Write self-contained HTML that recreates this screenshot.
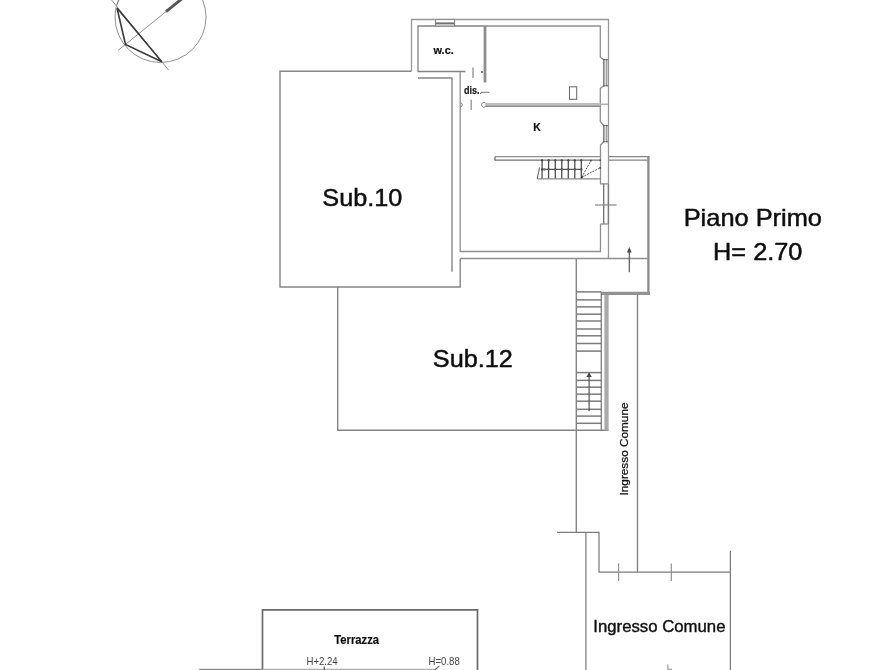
<!DOCTYPE html>
<html lang="it"><head><meta charset="utf-8"><title>Piano Primo</title>
<style>
html,body{margin:0;padding:0;background:#fff;}
body{width:893px;height:670px;overflow:hidden;}
svg{display:block;font-family:"Liberation Sans",sans-serif;}
</style></head><body>
<svg width="893" height="670" viewBox="0 0 893 670">
<defs><filter id="b" x="0" y="0" width="893" height="670" filterUnits="userSpaceOnUse"><feGaussianBlur stdDeviation="0.5"/></filter></defs>
<rect width="893" height="670" fill="#fff"/>
<g filter="url(#b)">
<circle cx="160.5" cy="17" r="45.5" fill="none" stroke="#909090" stroke-width="1"/>
<line x1="110.8" y1="-1" x2="168.5" y2="70" stroke="#909090" stroke-width="1" />
<line x1="118.1" y1="50.4" x2="181.8" y2="-1.2" stroke="#909090" stroke-width="1" />
<line x1="166" y1="11.6" x2="181.8" y2="-1.2" stroke="#555" stroke-width="2.8" />
<path d="M117 8 L125.5 44.4 L161.8 61.8 L117 8" stroke="#3a3a3a" stroke-width="1.6" fill="none" stroke-linejoin="miter" />
<path d="M119.6 -1 L116.6 5.4" stroke="#909090" stroke-width="1" fill="none" stroke-linejoin="miter" />
<path d="M411.5 71.3 L280 71.3 L280 287 L460.2 287 L460.2 258.5" stroke="#858585" stroke-width="1.4" fill="none" stroke-linejoin="miter" />
<path d="M411.5 71.3 L411.5 19.5 L608.5 19.5 L608.5 258.5" stroke="#979797" stroke-width="1.3" fill="none" stroke-linejoin="miter" />
<path d="M460.2 258.5 L648.5 258.5" stroke="#8f8f8f" stroke-width="1.3" fill="none" stroke-linejoin="miter" />
<path d="M418 78 L452 78 L452 271.7" stroke="#858585" stroke-width="1.4" fill="none" stroke-linejoin="miter" />
<path d="M485 26 L418 26 L418 71.5 L465.5 71.5" stroke="#848484" stroke-width="1.3" fill="none" stroke-linejoin="miter" />
<path d="M460.2 71.5 L460.2 251.5 L600.5 251.5 L600.5 224" stroke="#8f8f8f" stroke-width="1.3" fill="none" stroke-linejoin="miter" />
<path d="M485 26 L600.3 26 L600.3 57.2 L603.6 59.6 L603.6 85.8 L600.3 88.5 L600.3 121.5 L603.6 125.5 L603.6 141.7 L600.5 145 L600.5 183.8 L608.5 183.8" stroke="#8f8f8f" stroke-width="1.3" fill="none" stroke-linejoin="miter" />
<rect x="604" y="59.6" width="2.8" height="26.199999999999996" fill="#dcdcdc" stroke="#808080" stroke-width="1"/>
<circle cx="604" cy="59.6" r="0.8" fill="#555" stroke="none" stroke-width="1"/>
<circle cx="607" cy="59.6" r="0.8" fill="#555" stroke="none" stroke-width="1"/>
<circle cx="604" cy="85.8" r="0.8" fill="#555" stroke="none" stroke-width="1"/>
<circle cx="607" cy="85.8" r="0.8" fill="#555" stroke="none" stroke-width="1"/>
<rect x="604" y="125.5" width="2.8" height="16.19999999999999" fill="#dcdcdc" stroke="#808080" stroke-width="1"/>
<circle cx="604" cy="125.5" r="0.8" fill="#555" stroke="none" stroke-width="1"/>
<circle cx="607" cy="125.5" r="0.8" fill="#555" stroke="none" stroke-width="1"/>
<circle cx="604" cy="141.7" r="0.8" fill="#555" stroke="none" stroke-width="1"/>
<circle cx="607" cy="141.7" r="0.8" fill="#555" stroke="none" stroke-width="1"/>
<line x1="600.3" y1="104.2" x2="608.5" y2="104.2" stroke="#8f8f8f" stroke-width="1" />
<line x1="603.7" y1="183.8" x2="603.7" y2="224" stroke="#6e6e6e" stroke-width="1.3" />
<line x1="608.4" y1="183.8" x2="608.4" y2="224" stroke="#7a7a7a" stroke-width="1.3" />
<line x1="600.5" y1="224" x2="608.5" y2="224" stroke="#8f8f8f" stroke-width="1.3" />
<line x1="595" y1="205" x2="616.5" y2="205" stroke="#858585" stroke-width="1.2" />
<rect x="435.5" y="19.5" width="19" height="6.5" fill="#fff" stroke="#8f8f8f" stroke-width="1.2"/>
<line x1="435.5" y1="23.4" x2="454.5" y2="23.4" stroke="#707070" stroke-width="2" />
<line x1="485" y1="26" x2="485" y2="82.5" stroke="#8e8e8e" stroke-width="2.8" />
<line x1="482.5" y1="104.6" x2="600.3" y2="104.6" stroke="#bdbdbd" stroke-width="3.2" />
<line x1="482.5" y1="106.4" x2="600.3" y2="106.4" stroke="#8c8c8c" stroke-width="1.2" />
<path d="M485 107 A2.4 2.4 0 1 1 485.5 103" fill="#fff" stroke="#858585" stroke-width="1"/>
<rect x="569.5" y="86.8" width="7.2" height="12.5" fill="none" stroke="#707070" stroke-width="1.1"/>
<line x1="473" y1="67.5" x2="473" y2="78" stroke="#909090" stroke-width="1.3" />
<line x1="471.2" y1="99.7" x2="471.2" y2="110" stroke="#909090" stroke-width="1.3" />
<circle cx="482" cy="72" r="1" fill="#555" stroke="none" stroke-width="1"/>
<path d="M480.3 93.8 L481.5 92.2 L489.3 92.2" stroke="#777" stroke-width="1.1" fill="none" stroke-linejoin="miter" />
<path d="M460.2 102.8 A2 2 0 0 1 460.2 107" fill="none" stroke="#858585" stroke-width="1"/>
<line x1="495" y1="156.7" x2="600.5" y2="156.7" stroke="#8f8f8f" stroke-width="1.2" />
<path d="M495 156.7 L495 160.1 L600.5 160.1" stroke="#707070" stroke-width="1.3" fill="none" stroke-linejoin="miter" />
<line x1="608.5" y1="156.7" x2="649.5" y2="156.7" stroke="#858585" stroke-width="1.3" />
<line x1="608.5" y1="160.1" x2="648" y2="160.1" stroke="#858585" stroke-width="1.2" />
<line x1="648.4" y1="156.7" x2="648.4" y2="294" stroke="#8a8a8a" stroke-width="2.3" />
<line x1="601" y1="293.3" x2="650" y2="293.3" stroke="#929292" stroke-width="3.2" />
<line x1="542.1" y1="160.1" x2="542.1" y2="178.9" stroke="#505050" stroke-width="1.3" />
<circle cx="542.1" cy="160.3" r="1.1" fill="#3a3a3a" stroke="none" stroke-width="1"/>
<circle cx="542.1" cy="169.4" r="1.1" fill="#3a3a3a" stroke="none" stroke-width="1"/>
<line x1="548.6" y1="160.1" x2="548.6" y2="178.9" stroke="#505050" stroke-width="1.3" />
<circle cx="548.6" cy="160.3" r="1.1" fill="#3a3a3a" stroke="none" stroke-width="1"/>
<circle cx="548.6" cy="169.4" r="1.1" fill="#3a3a3a" stroke="none" stroke-width="1"/>
<line x1="555.3" y1="160.1" x2="555.3" y2="178.9" stroke="#505050" stroke-width="1.3" />
<circle cx="555.3" cy="160.3" r="1.1" fill="#3a3a3a" stroke="none" stroke-width="1"/>
<circle cx="555.3" cy="169.4" r="1.1" fill="#3a3a3a" stroke="none" stroke-width="1"/>
<line x1="561.8" y1="160.1" x2="561.8" y2="178.9" stroke="#505050" stroke-width="1.3" />
<circle cx="561.8" cy="160.3" r="1.1" fill="#3a3a3a" stroke="none" stroke-width="1"/>
<circle cx="561.8" cy="169.4" r="1.1" fill="#3a3a3a" stroke="none" stroke-width="1"/>
<line x1="568.3" y1="160.1" x2="568.3" y2="178.9" stroke="#505050" stroke-width="1.3" />
<circle cx="568.3" cy="160.3" r="1.1" fill="#3a3a3a" stroke="none" stroke-width="1"/>
<circle cx="568.3" cy="169.4" r="1.1" fill="#3a3a3a" stroke="none" stroke-width="1"/>
<line x1="574.8" y1="160.1" x2="574.8" y2="178.9" stroke="#505050" stroke-width="1.3" />
<circle cx="574.8" cy="160.3" r="1.1" fill="#3a3a3a" stroke="none" stroke-width="1"/>
<circle cx="574.8" cy="169.4" r="1.1" fill="#3a3a3a" stroke="none" stroke-width="1"/>
<line x1="581.3" y1="160.1" x2="581.3" y2="178.9" stroke="#505050" stroke-width="1.3" />
<circle cx="581.3" cy="160.3" r="1.1" fill="#3a3a3a" stroke="none" stroke-width="1"/>
<circle cx="581.3" cy="169.4" r="1.1" fill="#3a3a3a" stroke="none" stroke-width="1"/>
<line x1="543.4" y1="169.4" x2="581.3" y2="169.4" stroke="#555" stroke-width="1.3" />
<line x1="537.2" y1="178.9" x2="600.5" y2="178.9" stroke="#8a8a8a" stroke-width="1.1" />
<line x1="539.6" y1="167.5" x2="537.2" y2="178.9" stroke="#666" stroke-width="1.1" />
<circle cx="544.3" cy="169.4" r="1.4" fill="#777" stroke="none" stroke-width="1"/>
<line x1="581.8" y1="177.2" x2="591" y2="160.4" stroke="#555" stroke-width="1" stroke-dasharray="2 1"/>
<line x1="581.8" y1="177.2" x2="600.3" y2="167.8" stroke="#555" stroke-width="1" stroke-dasharray="2 1"/>
<circle cx="581.8" cy="177.2" r="1" fill="#333" stroke="none" stroke-width="1"/>
<circle cx="591" cy="160.6" r="0.9" fill="#444" stroke="none" stroke-width="1"/>
<circle cx="600.2" cy="167.8" r="0.9" fill="#444" stroke="none" stroke-width="1"/>
<circle cx="600.2" cy="160.3" r="0.9" fill="#555" stroke="none" stroke-width="1"/>
<line x1="629.3" y1="251" x2="629.3" y2="272.3" stroke="#555" stroke-width="1.2" />
<path d="M629.3 247 L627 252.5 L631.6 252.5 Z" fill="#444"/>
<path d="M337.7 287 L337.7 430.2 L608.5 430.2" stroke="#858585" stroke-width="1.4" fill="none" stroke-linejoin="miter" />
<line x1="576.3" y1="258.5" x2="576.3" y2="532.3" stroke="#858585" stroke-width="1.4" />
<line x1="601.3" y1="292" x2="601.3" y2="430.2" stroke="#858585" stroke-width="1.4" />
<line x1="606.5" y1="295" x2="606.5" y2="430.2" stroke="#ababab" stroke-width="4.3" />
<line x1="637.5" y1="295" x2="637.5" y2="572" stroke="#858585" stroke-width="1.4" />
<line x1="576.3" y1="291.9" x2="601.3" y2="291.9" stroke="#7c7c7c" stroke-width="1.5" />
<line x1="576.3" y1="299.9" x2="601.3" y2="299.9" stroke="#7c7c7c" stroke-width="1.5" />
<line x1="576.3" y1="306.9" x2="601.3" y2="306.9" stroke="#7c7c7c" stroke-width="1.5" />
<line x1="576.3" y1="314.2" x2="601.3" y2="314.2" stroke="#7c7c7c" stroke-width="1.5" />
<line x1="576.3" y1="321" x2="601.3" y2="321" stroke="#7c7c7c" stroke-width="1.5" />
<line x1="576.3" y1="329" x2="601.3" y2="329" stroke="#7c7c7c" stroke-width="1.5" />
<line x1="576.3" y1="335.8" x2="601.3" y2="335.8" stroke="#7c7c7c" stroke-width="1.5" />
<line x1="576.3" y1="343.5" x2="601.3" y2="343.5" stroke="#7c7c7c" stroke-width="1.5" />
<line x1="576.3" y1="351.1" x2="601.3" y2="351.1" stroke="#7c7c7c" stroke-width="1.5" />
<line x1="576.3" y1="372.6" x2="601.3" y2="372.6" stroke="#7c7c7c" stroke-width="1.5" />
<line x1="576.3" y1="380.4" x2="601.3" y2="380.4" stroke="#7c7c7c" stroke-width="1.5" />
<line x1="576.3" y1="387.2" x2="601.3" y2="387.2" stroke="#7c7c7c" stroke-width="1.5" />
<line x1="576.3" y1="394.2" x2="601.3" y2="394.2" stroke="#7c7c7c" stroke-width="1.5" />
<line x1="576.3" y1="401.2" x2="601.3" y2="401.2" stroke="#7c7c7c" stroke-width="1.5" />
<line x1="576.3" y1="409.3" x2="601.3" y2="409.3" stroke="#7c7c7c" stroke-width="1.5" />
<line x1="576.3" y1="416.1" x2="601.3" y2="416.1" stroke="#7c7c7c" stroke-width="1.5" />
<line x1="576.3" y1="423.3" x2="601.3" y2="423.3" stroke="#7c7c7c" stroke-width="1.5" />
<line x1="589.1" y1="375" x2="589.1" y2="411.2" stroke="#555" stroke-width="1.2" />
<path d="M589.1 372.3 L586.4 377 L591.8 377 Z" fill="#444"/>
<path d="M557 532.3 L599 532.3 L599 572 L730.4 572" stroke="#7c7c7c" stroke-width="1.25" fill="none" stroke-linejoin="miter" />
<line x1="585.9" y1="532.3" x2="585.9" y2="670" stroke="#7c7c7c" stroke-width="1.25" />
<line x1="730.4" y1="550.8" x2="730.4" y2="670" stroke="#7c7c7c" stroke-width="1.25" />
<line x1="618.6" y1="563.6" x2="618.6" y2="581" stroke="#909090" stroke-width="1.2" />
<line x1="671.3" y1="563.6" x2="671.3" y2="581" stroke="#909090" stroke-width="1.2" />
<path d="M667.8 664.5 L667.8 669.3 L672 669.3" stroke="#909090" stroke-width="1.1" fill="none" stroke-linejoin="miter" />
<path d="M262.5 670 L262.5 609.8 L477.5 609.8 L477.5 670" stroke="#6a6a6a" stroke-width="1.7" fill="none" stroke-linejoin="miter" />
<line x1="199" y1="669.4" x2="262.5" y2="669.4" stroke="#8a8a8a" stroke-width="1.4" />
<line x1="262.5" y1="669.4" x2="436" y2="669.4" stroke="#b0b0b0" stroke-width="1.4" />
<line x1="324.3" y1="666.5" x2="324.3" y2="670" stroke="#555" stroke-width="1.2" />
<line x1="434.9" y1="670" x2="439.4" y2="665.8" stroke="#666" stroke-width="1.1" />
<text x="322.3" y="206.3" font-size="24.6" font-weight="normal" text-anchor="start" fill="#111" stroke="#111" stroke-width="0.5" stroke-linejoin="round" textLength="80" lengthAdjust="spacingAndGlyphs" >Sub.10</text>
<text x="432.8" y="367.2" font-size="24.6" font-weight="normal" text-anchor="start" fill="#111" stroke="#111" stroke-width="0.5" stroke-linejoin="round" textLength="80" lengthAdjust="spacingAndGlyphs" >Sub.12</text>
<text x="683.7" y="225.5" font-size="24" font-weight="normal" text-anchor="start" fill="#111" stroke="#111" stroke-width="0.5" stroke-linejoin="round" textLength="138.3" lengthAdjust="spacingAndGlyphs" >Piano Primo</text>
<text x="713.1" y="259.5" font-size="24" font-weight="normal" text-anchor="start" fill="#111" stroke="#111" stroke-width="0.5" stroke-linejoin="round" textLength="89.3" lengthAdjust="spacingAndGlyphs" >H= 2.70</text>
<text x="593.3" y="631.6" font-size="16.5" font-weight="normal" text-anchor="start" fill="#111" stroke="#111" stroke-width="0.4" stroke-linejoin="round" textLength="132.2" lengthAdjust="spacingAndGlyphs" >Ingresso Comune</text>
<text x="0" y="0" font-size="10.5" font-weight="normal" text-anchor="start" fill="#111" stroke="#111" stroke-width="0.25" stroke-linejoin="round" textLength="93" lengthAdjust="spacingAndGlyphs" transform="translate(627.8,495.5) rotate(-90)">Ingresso Comune</text>
<text x="433.5" y="54.3" font-size="10.5" font-weight="bold" text-anchor="start" fill="#111" stroke="#111" stroke-width="0.2" stroke-linejoin="round" textLength="20.3" lengthAdjust="spacingAndGlyphs" >w.c.</text>
<text x="463.9" y="93.8" font-size="10" font-weight="bold" text-anchor="start" fill="#111" stroke="#111" stroke-width="0.2" stroke-linejoin="round" textLength="15.5" lengthAdjust="spacingAndGlyphs" >dis.</text>
<text x="533.3" y="131.4" font-size="10.5" font-weight="bold" text-anchor="start" fill="#111" stroke="#111" stroke-width="0.2" stroke-linejoin="round" >K</text>
<text x="334.3" y="644" font-size="12.6" font-weight="bold" text-anchor="start" fill="#111" stroke="#111" stroke-width="0.2" stroke-linejoin="round" textLength="44.8" lengthAdjust="spacingAndGlyphs" >Terrazza</text>
<text x="306.5" y="664.5" font-size="11" font-weight="normal" text-anchor="start" fill="#444" stroke="#444" stroke-width="0" stroke-linejoin="round" textLength="31.2" lengthAdjust="spacingAndGlyphs" >H+2.24</text>
<text x="428.6" y="664.5" font-size="11" font-weight="normal" text-anchor="start" fill="#444" stroke="#444" stroke-width="0" stroke-linejoin="round" textLength="31.2" lengthAdjust="spacingAndGlyphs" >H=0.88</text>
</g>
</svg>
</body></html>
